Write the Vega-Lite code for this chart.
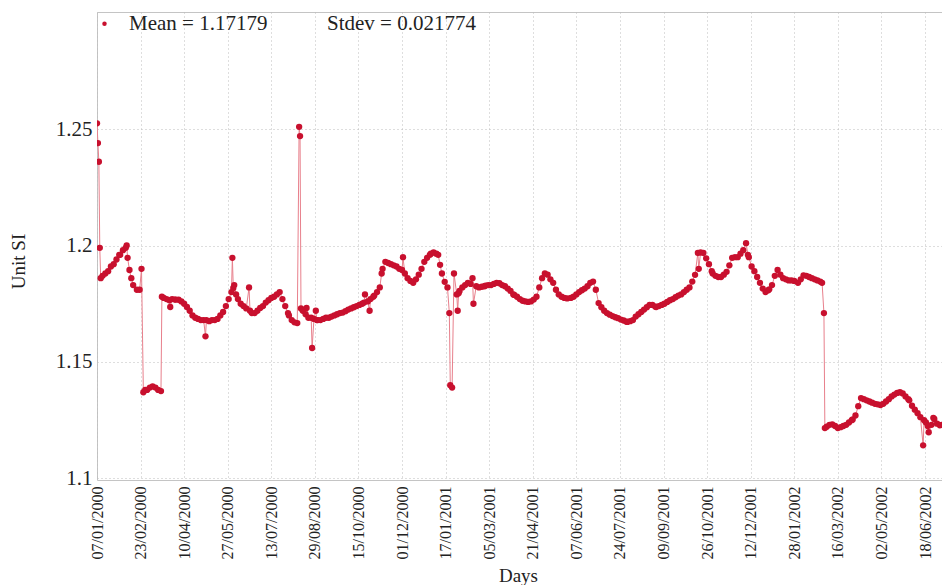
{
  "$schema": "https://vega.github.io/schema/vega-lite/v6.json",
  "width": 845,
  "height": 468,
  "autosize": {"type": "none"},
  "padding": {"left": 97, "top": 12, "right": 0, "bottom": 105},
  "background": "white",
  "config": {
    "view": {"stroke": "#c4c4c4", "strokeWidth": 1},
    "font": "Liberation Serif",
    "axis": {
      "labelFont": "Liberation Serif",
      "titleFont": "Liberation Serif",
      "labelColor": "#222222",
      "titleColor": "#222222",
      "titleFontWeight": "normal",
      "domain": false,
      "ticks": false,
      "gridColor": "#bdbdbd",
      "gridDash": [1, 3],
      "gridWidth": 1
    }
  },
  "data": {
    "values": [
      {"d": "2000-01-07", "v": 1.2525}, {"d": "2000-01-08", "v": 1.244}, {"d": "2000-01-09", "v": 1.236},
      {"d": "2000-01-10", "v": 1.199}, {"d": "2000-01-11", "v": 1.186}, {"d": "2000-01-13", "v": 1.187},
      {"d": "2000-01-16", "v": 1.188}, {"d": "2000-01-19", "v": 1.189}, {"d": "2000-01-22", "v": 1.191},
      {"d": "2000-01-25", "v": 1.192}, {"d": "2000-01-28", "v": 1.194}, {"d": "2000-01-31", "v": 1.196},
      {"d": "2000-02-01", "v": 1.196}, {"d": "2000-02-04", "v": 1.198}, {"d": "2000-02-07", "v": 1.199},
      {"d": "2000-02-08", "v": 1.2}, {"d": "2000-02-09", "v": 1.1947}, {"d": "2000-02-11", "v": 1.1895},
      {"d": "2000-02-13", "v": 1.186}, {"d": "2000-02-15", "v": 1.183}, {"d": "2000-02-19", "v": 1.181},
      {"d": "2000-02-22", "v": 1.181}, {"d": "2000-02-24", "v": 1.19}, {"d": "2000-02-26", "v": 1.137},
      {"d": "2000-02-28", "v": 1.138}, {"d": "2000-03-01", "v": 1.138}, {"d": "2000-03-04", "v": 1.139},
      {"d": "2000-03-07", "v": 1.1395}, {"d": "2000-03-10", "v": 1.139}, {"d": "2000-03-13", "v": 1.138},
      {"d": "2000-03-16", "v": 1.1375}, {"d": "2000-03-17", "v": 1.178}, {"d": "2000-03-19", "v": 1.1775},
      {"d": "2000-03-22", "v": 1.177}, {"d": "2000-03-25", "v": 1.1765}, {"d": "2000-03-26", "v": 1.1736},
      {"d": "2000-03-28", "v": 1.177}, {"d": "2000-03-31", "v": 1.1768},
      {"d": "2000-04-01", "v": 1.1768}, {"d": "2000-04-04", "v": 1.1767}, {"d": "2000-04-07", "v": 1.176},
      {"d": "2000-04-10", "v": 1.175}, {"d": "2000-04-13", "v": 1.1736}, {"d": "2000-04-16", "v": 1.172},
      {"d": "2000-04-19", "v": 1.17}, {"d": "2000-04-22", "v": 1.169}, {"d": "2000-04-25", "v": 1.1685},
      {"d": "2000-04-28", "v": 1.168},
      {"d": "2000-05-01", "v": 1.168}, {"d": "2000-05-03", "v": 1.161}, {"d": "2000-05-04", "v": 1.168},
      {"d": "2000-05-07", "v": 1.1675}, {"d": "2000-05-10", "v": 1.168}, {"d": "2000-05-13", "v": 1.168},
      {"d": "2000-05-16", "v": 1.1685}, {"d": "2000-05-19", "v": 1.17}, {"d": "2000-05-22", "v": 1.1715},
      {"d": "2000-05-25", "v": 1.174}, {"d": "2000-05-28", "v": 1.177}, {"d": "2000-05-31", "v": 1.18},
      {"d": "2000-06-01", "v": 1.1947}, {"d": "2000-06-02", "v": 1.1818}, {"d": "2000-06-03", "v": 1.183},
      {"d": "2000-06-05", "v": 1.179}, {"d": "2000-06-07", "v": 1.177}, {"d": "2000-06-10", "v": 1.175},
      {"d": "2000-06-13", "v": 1.174}, {"d": "2000-06-16", "v": 1.173}, {"d": "2000-06-19", "v": 1.182},
      {"d": "2000-06-20", "v": 1.172}, {"d": "2000-06-22", "v": 1.171}, {"d": "2000-06-25", "v": 1.171},
      {"d": "2000-06-28", "v": 1.172},
      {"d": "2000-07-01", "v": 1.1732}, {"d": "2000-07-04", "v": 1.174}, {"d": "2000-07-07", "v": 1.1755},
      {"d": "2000-07-10", "v": 1.1765}, {"d": "2000-07-13", "v": 1.1775}, {"d": "2000-07-16", "v": 1.178},
      {"d": "2000-07-19", "v": 1.179}, {"d": "2000-07-22", "v": 1.18}, {"d": "2000-07-25", "v": 1.177},
      {"d": "2000-07-28", "v": 1.174}, {"d": "2000-07-31", "v": 1.171},
      {"d": "2000-08-01", "v": 1.17}, {"d": "2000-08-04", "v": 1.168}, {"d": "2000-08-07", "v": 1.167},
      {"d": "2000-08-10", "v": 1.1667}, {"d": "2000-08-12", "v": 1.251}, {"d": "2000-08-13", "v": 1.247},
      {"d": "2000-08-14", "v": 1.173}, {"d": "2000-08-16", "v": 1.172}, {"d": "2000-08-19", "v": 1.1705},
      {"d": "2000-08-20", "v": 1.1732}, {"d": "2000-08-22", "v": 1.169}, {"d": "2000-08-25", "v": 1.169},
      {"d": "2000-08-26", "v": 1.156}, {"d": "2000-08-28", "v": 1.1685}, {"d": "2000-08-30", "v": 1.172},
      {"d": "2000-08-31", "v": 1.168},
      {"d": "2000-09-01", "v": 1.168}, {"d": "2000-09-04", "v": 1.168}, {"d": "2000-09-07", "v": 1.1685},
      {"d": "2000-09-10", "v": 1.169}, {"d": "2000-09-13", "v": 1.169}, {"d": "2000-09-16", "v": 1.1695},
      {"d": "2000-09-19", "v": 1.17}, {"d": "2000-09-22", "v": 1.1705}, {"d": "2000-09-25", "v": 1.171},
      {"d": "2000-09-28", "v": 1.1712},
      {"d": "2000-10-01", "v": 1.1718}, {"d": "2000-10-04", "v": 1.1725}, {"d": "2000-10-07", "v": 1.173},
      {"d": "2000-10-10", "v": 1.1735}, {"d": "2000-10-13", "v": 1.174}, {"d": "2000-10-16", "v": 1.1745},
      {"d": "2000-10-19", "v": 1.175}, {"d": "2000-10-21", "v": 1.1755}, {"d": "2000-10-22", "v": 1.179},
      {"d": "2000-10-25", "v": 1.176}, {"d": "2000-10-27", "v": 1.172}, {"d": "2000-10-28", "v": 1.177},
      {"d": "2000-10-31", "v": 1.178},
      {"d": "2000-11-01", "v": 1.1785}, {"d": "2000-11-04", "v": 1.18}, {"d": "2000-11-07", "v": 1.182},
      {"d": "2000-11-09", "v": 1.188}, {"d": "2000-11-10", "v": 1.19}, {"d": "2000-11-13", "v": 1.193},
      {"d": "2000-11-16", "v": 1.1925}, {"d": "2000-11-19", "v": 1.192}, {"d": "2000-11-22", "v": 1.1915},
      {"d": "2000-11-25", "v": 1.191}, {"d": "2000-11-28", "v": 1.19},
      {"d": "2000-12-01", "v": 1.1895}, {"d": "2000-12-02", "v": 1.195}, {"d": "2000-12-04", "v": 1.188},
      {"d": "2000-12-07", "v": 1.186}, {"d": "2000-12-10", "v": 1.1848}, {"d": "2000-12-13", "v": 1.184},
      {"d": "2000-12-16", "v": 1.1855}, {"d": "2000-12-19", "v": 1.1875}, {"d": "2000-12-22", "v": 1.19},
      {"d": "2000-12-25", "v": 1.193}, {"d": "2000-12-28", "v": 1.1947}, {"d": "2000-12-31", "v": 1.196},
      {"d": "2001-01-01", "v": 1.1965}, {"d": "2001-01-04", "v": 1.197}, {"d": "2001-01-07", "v": 1.1965},
      {"d": "2001-01-09", "v": 1.196}, {"d": "2001-01-11", "v": 1.1917}, {"d": "2001-01-13", "v": 1.188},
      {"d": "2001-01-16", "v": 1.1844}, {"d": "2001-01-19", "v": 1.182}, {"d": "2001-01-21", "v": 1.171},
      {"d": "2001-01-22", "v": 1.14}, {"d": "2001-01-24", "v": 1.139}, {"d": "2001-01-26", "v": 1.188},
      {"d": "2001-01-29", "v": 1.179}, {"d": "2001-01-30", "v": 1.172}, {"d": "2001-01-31", "v": 1.1795},
      {"d": "2001-02-01", "v": 1.1805}, {"d": "2001-02-04", "v": 1.182}, {"d": "2001-02-07", "v": 1.183},
      {"d": "2001-02-10", "v": 1.184}, {"d": "2001-02-13", "v": 1.1835}, {"d": "2001-02-15", "v": 1.186},
      {"d": "2001-02-16", "v": 1.175}, {"d": "2001-02-19", "v": 1.1825}, {"d": "2001-02-22", "v": 1.182},
      {"d": "2001-02-25", "v": 1.1823}, {"d": "2001-02-28", "v": 1.1825},
      {"d": "2001-03-01", "v": 1.1828}, {"d": "2001-03-04", "v": 1.183}, {"d": "2001-03-07", "v": 1.183},
      {"d": "2001-03-10", "v": 1.1835}, {"d": "2001-03-13", "v": 1.184}, {"d": "2001-03-16", "v": 1.1838},
      {"d": "2001-03-19", "v": 1.183}, {"d": "2001-03-22", "v": 1.1825}, {"d": "2001-03-25", "v": 1.1815},
      {"d": "2001-03-28", "v": 1.1805}, {"d": "2001-03-31", "v": 1.179},
      {"d": "2001-04-01", "v": 1.1788}, {"d": "2001-04-04", "v": 1.178}, {"d": "2001-04-07", "v": 1.177},
      {"d": "2001-04-10", "v": 1.1763}, {"d": "2001-04-13", "v": 1.176}, {"d": "2001-04-16", "v": 1.1758},
      {"d": "2001-04-19", "v": 1.176}, {"d": "2001-04-22", "v": 1.1768}, {"d": "2001-04-25", "v": 1.178},
      {"d": "2001-04-28", "v": 1.182},
      {"d": "2001-05-01", "v": 1.186}, {"d": "2001-05-04", "v": 1.188}, {"d": "2001-05-07", "v": 1.1875},
      {"d": "2001-05-10", "v": 1.1855}, {"d": "2001-05-13", "v": 1.184}, {"d": "2001-05-16", "v": 1.181},
      {"d": "2001-05-19", "v": 1.179}, {"d": "2001-05-22", "v": 1.178}, {"d": "2001-05-25", "v": 1.1775},
      {"d": "2001-05-28", "v": 1.1773},
      {"d": "2001-06-01", "v": 1.1775}, {"d": "2001-06-04", "v": 1.178}, {"d": "2001-06-07", "v": 1.179},
      {"d": "2001-06-10", "v": 1.18}, {"d": "2001-06-13", "v": 1.1808}, {"d": "2001-06-16", "v": 1.1815},
      {"d": "2001-06-19", "v": 1.1825}, {"d": "2001-06-22", "v": 1.184}, {"d": "2001-06-25", "v": 1.1845},
      {"d": "2001-06-28", "v": 1.181},
      {"d": "2001-07-01", "v": 1.1753}, {"d": "2001-07-04", "v": 1.1735}, {"d": "2001-07-07", "v": 1.172},
      {"d": "2001-07-10", "v": 1.171}, {"d": "2001-07-13", "v": 1.1703}, {"d": "2001-07-16", "v": 1.1697},
      {"d": "2001-07-19", "v": 1.1692}, {"d": "2001-07-22", "v": 1.1688}, {"d": "2001-07-25", "v": 1.1682},
      {"d": "2001-07-28", "v": 1.1678}, {"d": "2001-07-31", "v": 1.1673},
      {"d": "2001-08-01", "v": 1.1672}, {"d": "2001-08-04", "v": 1.1675}, {"d": "2001-08-07", "v": 1.168},
      {"d": "2001-08-10", "v": 1.1695}, {"d": "2001-08-13", "v": 1.1705}, {"d": "2001-08-16", "v": 1.1715},
      {"d": "2001-08-19", "v": 1.1725}, {"d": "2001-08-22", "v": 1.1735}, {"d": "2001-08-25", "v": 1.1745},
      {"d": "2001-08-28", "v": 1.1745}, {"d": "2001-08-31", "v": 1.1738},
      {"d": "2001-09-01", "v": 1.1736}, {"d": "2001-09-04", "v": 1.174}, {"d": "2001-09-07", "v": 1.1745},
      {"d": "2001-09-10", "v": 1.175}, {"d": "2001-09-13", "v": 1.1758}, {"d": "2001-09-16", "v": 1.1765},
      {"d": "2001-09-19", "v": 1.177}, {"d": "2001-09-22", "v": 1.1778}, {"d": "2001-09-25", "v": 1.1785},
      {"d": "2001-09-28", "v": 1.179},
      {"d": "2001-10-01", "v": 1.18}, {"d": "2001-10-04", "v": 1.181}, {"d": "2001-10-07", "v": 1.182},
      {"d": "2001-10-10", "v": 1.1845}, {"d": "2001-10-13", "v": 1.1874}, {"d": "2001-10-16", "v": 1.1968},
      {"d": "2001-10-17", "v": 1.19}, {"d": "2001-10-19", "v": 1.197}, {"d": "2001-10-22", "v": 1.1968},
      {"d": "2001-10-25", "v": 1.1945}, {"d": "2001-10-28", "v": 1.192}, {"d": "2001-10-31", "v": 1.189},
      {"d": "2001-11-01", "v": 1.188}, {"d": "2001-11-04", "v": 1.187}, {"d": "2001-11-07", "v": 1.1865},
      {"d": "2001-11-10", "v": 1.1865}, {"d": "2001-11-13", "v": 1.1875}, {"d": "2001-11-16", "v": 1.1887},
      {"d": "2001-11-19", "v": 1.1915}, {"d": "2001-11-22", "v": 1.1947}, {"d": "2001-11-25", "v": 1.195},
      {"d": "2001-11-28", "v": 1.195},
      {"d": "2001-12-01", "v": 1.1965}, {"d": "2001-12-04", "v": 1.198}, {"d": "2001-12-07", "v": 1.201},
      {"d": "2001-12-09", "v": 1.196}, {"d": "2001-12-10", "v": 1.195}, {"d": "2001-12-13", "v": 1.191},
      {"d": "2001-12-16", "v": 1.189}, {"d": "2001-12-19", "v": 1.1865}, {"d": "2001-12-22", "v": 1.184},
      {"d": "2001-12-25", "v": 1.1815}, {"d": "2001-12-28", "v": 1.18}, {"d": "2001-12-31", "v": 1.1808},
      {"d": "2002-01-01", "v": 1.1812}, {"d": "2002-01-04", "v": 1.183}, {"d": "2002-01-07", "v": 1.187},
      {"d": "2002-01-10", "v": 1.1895}, {"d": "2002-01-13", "v": 1.1875}, {"d": "2002-01-16", "v": 1.186},
      {"d": "2002-01-19", "v": 1.1855}, {"d": "2002-01-22", "v": 1.185}, {"d": "2002-01-25", "v": 1.185},
      {"d": "2002-01-28", "v": 1.1848},
      {"d": "2002-02-01", "v": 1.184}, {"d": "2002-02-04", "v": 1.1855}, {"d": "2002-02-07", "v": 1.1872},
      {"d": "2002-02-10", "v": 1.187}, {"d": "2002-02-13", "v": 1.1865}, {"d": "2002-02-16", "v": 1.186},
      {"d": "2002-02-19", "v": 1.1855}, {"d": "2002-02-22", "v": 1.185}, {"d": "2002-02-25", "v": 1.1845},
      {"d": "2002-02-27", "v": 1.184},
      {"d": "2002-03-01", "v": 1.171}, {"d": "2002-03-02", "v": 1.1216}, {"d": "2002-03-04", "v": 1.1222},
      {"d": "2002-03-07", "v": 1.123}, {"d": "2002-03-10", "v": 1.1232}, {"d": "2002-03-13", "v": 1.1225},
      {"d": "2002-03-16", "v": 1.1216}, {"d": "2002-03-19", "v": 1.122}, {"d": "2002-03-22", "v": 1.1225},
      {"d": "2002-03-25", "v": 1.123}, {"d": "2002-03-28", "v": 1.124}, {"d": "2002-03-31", "v": 1.125},
      {"d": "2002-04-01", "v": 1.1253}, {"d": "2002-04-04", "v": 1.127}, {"d": "2002-04-07", "v": 1.131},
      {"d": "2002-04-10", "v": 1.1345}, {"d": "2002-04-13", "v": 1.134}, {"d": "2002-04-16", "v": 1.1335},
      {"d": "2002-04-19", "v": 1.133}, {"d": "2002-04-22", "v": 1.1325}, {"d": "2002-04-25", "v": 1.132},
      {"d": "2002-04-28", "v": 1.1318},
      {"d": "2002-05-01", "v": 1.1315}, {"d": "2002-05-04", "v": 1.132}, {"d": "2002-05-07", "v": 1.133},
      {"d": "2002-05-10", "v": 1.134}, {"d": "2002-05-13", "v": 1.1352}, {"d": "2002-05-16", "v": 1.136},
      {"d": "2002-05-19", "v": 1.1367}, {"d": "2002-05-22", "v": 1.137}, {"d": "2002-05-25", "v": 1.1365},
      {"d": "2002-05-28", "v": 1.1352}, {"d": "2002-05-31", "v": 1.134},
      {"d": "2002-06-01", "v": 1.1335}, {"d": "2002-06-04", "v": 1.1312}, {"d": "2002-06-07", "v": 1.1295},
      {"d": "2002-06-10", "v": 1.128}, {"d": "2002-06-13", "v": 1.1263}, {"d": "2002-06-16", "v": 1.1142},
      {"d": "2002-06-17", "v": 1.125}, {"d": "2002-06-19", "v": 1.124}, {"d": "2002-06-21", "v": 1.1225},
      {"d": "2002-06-22", "v": 1.1198}, {"d": "2002-06-25", "v": 1.123}, {"d": "2002-06-27", "v": 1.126},
      {"d": "2002-06-28", "v": 1.1255},
      {"d": "2002-07-01", "v": 1.1235}, {"d": "2002-07-04", "v": 1.1228}, {"d": "2002-07-06", "v": 1.123}
    ]
  },
  "encoding": {
    "x": {
      "field": "d",
      "type": "temporal",
      "title": "Days",
      "scale": {
        "type": "utc",
        "domain": [
          {"year": 2000, "month": 1, "date": 7, "utc": true},
          {"year": 2002, "month": 7, "date": 6, "hours": 8, "utc": true}
        ]
      },
      "axis": {
        "values": [
          {"year": 2000, "month": 1, "date": 7, "utc": true},
          {"year": 2000, "month": 2, "date": 23, "utc": true},
          {"year": 2000, "month": 4, "date": 10, "utc": true},
          {"year": 2000, "month": 5, "date": 27, "utc": true},
          {"year": 2000, "month": 7, "date": 13, "utc": true},
          {"year": 2000, "month": 8, "date": 29, "utc": true},
          {"year": 2000, "month": 10, "date": 15, "utc": true},
          {"year": 2000, "month": 12, "date": 1, "utc": true},
          {"year": 2001, "month": 1, "date": 17, "utc": true},
          {"year": 2001, "month": 3, "date": 5, "utc": true},
          {"year": 2001, "month": 4, "date": 21, "utc": true},
          {"year": 2001, "month": 6, "date": 7, "utc": true},
          {"year": 2001, "month": 7, "date": 24, "utc": true},
          {"year": 2001, "month": 9, "date": 9, "utc": true},
          {"year": 2001, "month": 10, "date": 26, "utc": true},
          {"year": 2001, "month": 12, "date": 12, "utc": true},
          {"year": 2002, "month": 1, "date": 28, "utc": true},
          {"year": 2002, "month": 3, "date": 16, "utc": true},
          {"year": 2002, "month": 5, "date": 2, "utc": true},
          {"year": 2002, "month": 6, "date": 18, "utc": true}
        ],
        "format": "%d/%m/%Y",
        "labelAngle": -90,
        "labelFontSize": 16,
        "labelPadding": 6,
        "labelOverlap": false,
        "labelFlush": false,
        "titleFontSize": 19,
        "titleX": 421,
        "titleY": 95,
        "titleAlign": "center",
        "titleBaseline": "middle"
      }
    },
    "y": {
      "field": "v",
      "type": "quantitative",
      "title": "Unit SI",
      "scale": {"domain": [1.0993, 1.3003], "nice": false, "zero": false},
      "axis": {
        "values": [1.1, 1.15, 1.2, 1.25],
        "format": "~g",
        "labelFontSize": 21,
        "labelPadding": 5,
        "titleFontSize": 19,
        "titleAngle": -90,
        "titleX": -79,
        "titleY": 249,
        "titleAlign": "center",
        "titleBaseline": "middle"
      }
    }
  },
  "layer": [
    {
      "mark": {"type": "line", "color": "#e8808c", "strokeWidth": 1, "clip": true},
      "encoding": {}
    },
    {
      "mark": {"type": "point", "filled": true, "size": 40, "opacity": 1, "clip": true},
      "encoding": {
        "color": {
          "datum": "Mean = 1.17179",
          "scale": {
            "domain": ["Mean = 1.17179", "Stdev = 0.021774"],
            "range": ["#c8102e", "rgba(255,255,255,0)"]
          },
          "legend": {
            "orient": "none",
            "legendX": -3,
            "legendY": 1,
            "direction": "horizontal",
            "columns": 2,
            "title": null,
            "symbolType": "circle",
            "symbolSize": 20,
            "symbolStrokeWidth": 0,
            "labelFont": "Liberation Serif",
            "labelFontSize": 21,
            "labelColor": "#222222",
            "labelOffset": 14,
            "columnPadding": 24
          }
        }
      }
    }
  ]
}
